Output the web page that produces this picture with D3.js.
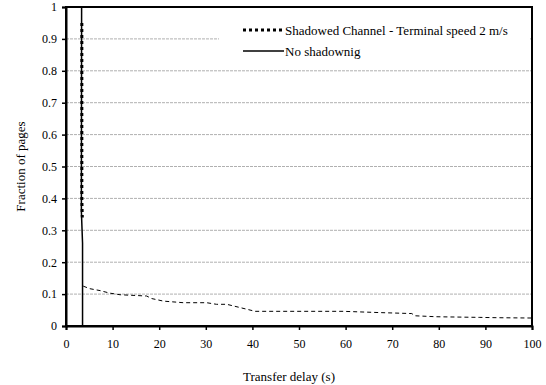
<html lang='eng'>
    <head>
        <script src="https://d3js.org/d3.v7.min.js" charset="utf-8"></script>
        <style>
          body { margin: 0; background: white; }
          text { font-family: "Liberation Serif", "Times New Roman", serif; fill: black; }
        </style>
    </head>
    <body>
        <script>
            // data
            var xTicks = [0, 10, 20, 30, 40, 50, 60, 70, 80, 90, 100]
            var yTicks = [0, 0.1, 0.2, 0.3, 0.4, 0.5, 0.6, 0.7, 0.8, 0.9, 1]
            var yTickLabels = ["0", "0.1", "0.2", "0.3", "0.4", "0.5", "0.6", "0.7", "0.8", "0.9", "1"]

            // shadowed channel, terminal speed 2 m/s : [delay, fraction]
            var shadowedDelay = [3.4, 3.4, 3.5, 3.7, 5.1, 7.3, 9.4, 11.6, 17.3, 18.4, 20.9, 25.2, 30.2, 32.3, 34.5, 37.3, 40.6, 48, 59.5, 67.4, 74.2, 74.9, 79.5, 88.8, 92.4, 100]
            var shadowedFrac  = [0.95, 0.40, 0.34, 0.125, 0.117, 0.111, 0.103, 0.098, 0.094, 0.086, 0.078, 0.073, 0.073, 0.068, 0.068, 0.058, 0.046, 0.046, 0.046, 0.042, 0.039, 0.032, 0.029, 0.027, 0.026, 0.025]

            // no shadowing
            var noShadowDelay = [3.55, 3.55, 3.3, 3.35]
            var noShadowFrac  = [0, 0.26, 0.36, 1]

            var seriesNames = ["Shadowed Channel - Terminal speed 2 m/s", "No shadownig"]

            var width = 546
            var height = 385
            var margin = {left: 66, right: 14, top: 7, bottom: 59}

            var svg = d3.select("body")
                        .append("svg")
                        .attr("width", width)
                        .attr("height", height)

            var x = d3.scaleLinear()
                .domain([0, 100])
                .range([margin.left, width - margin.right])

            var y = d3.scaleLinear()
                .domain([0, 1])
                .range([height - margin.bottom, margin.top])

            // gridlines
            svg.append("g")
               .selectAll("line")
               .data(yTicks.slice(1, -1))
               .enter().append("line")
               .attr("x1", x(0))
               .attr("x2", x(100))
               .attr("y1", function(d) { return y(d) })
               .attr("y2", function(d) { return y(d) })
               .attr("stroke", "#b0b0b0")
               .attr("stroke-width", 1)
               .attr("stroke-dasharray", "3,1")

            // frame
            svg.append("rect")
               .attr("x", x(0))
               .attr("y", y(1))
               .attr("width", x(100) - x(0))
               .attr("height", y(0) - y(1))
               .attr("fill", "none")
               .attr("stroke", "black")
               .attr("stroke-width", 2)

            // legend box (covers gridline)
            var legend = svg.append("g")
            legend.append("rect")
               .attr("x", 219)
               .attr("y", 16)
               .attr("width", 310)
               .attr("height", 46)
               .attr("fill", "white")

            // axes
            var xAxis = d3.axisBottom(x)
                .tickValues(xTicks)
                .tickSize(4)
                .tickFormat(d3.format("d"))
            var gx = svg.append("g")
               .attr("transform", "translate(0," + y(0) + ")")
               .call(xAxis)
            gx.select(".domain").attr("stroke-width", 2)
            gx.selectAll(".tick line").attr("stroke-width", 1.5)
            gx.selectAll("text")
               .attr("font-size", "12px")
               .attr("y", 10)
               .attr("dy", "1em")
               .attr("font-family", "Liberation Serif")

            var yAxis = d3.axisLeft(y)
                .tickValues(yTicks)
                .tickSize(4)
                .tickFormat(function(d, i) { return yTickLabels[i] })
            var gy = svg.append("g")
               .attr("transform", "translate(" + x(0) + ",0)")
               .call(yAxis)
            gy.select(".domain").attr("stroke-width", 2)
            gy.selectAll(".tick line").attr("stroke-width", 1.5)
            gy.selectAll("text")
               .attr("font-size", "12px")
               .attr("x", -9)
               .attr("font-family", "Liberation Serif")

            var line = d3.line()
                .x(function(d) { return x(d[0]) })
                .y(function(d) { return y(d[1]) })

            // no shadowing
            svg.append("path")
               .datum(d3.zip(noShadowDelay, noShadowFrac))
               .attr("d", line)
               .attr("fill", "none")
               .attr("stroke", "black")
               .attr("stroke-width", 1.5)

            // shadowed: thick dotted part then thin dashed tail
            var shadowed = d3.zip(shadowedDelay, shadowedFrac)
            svg.append("path")
               .datum(shadowed.slice(0, 3))
               .attr("d", line)
               .attr("fill", "none")
               .attr("stroke", "black")
               .attr("stroke-width", 3)
               .attr("stroke-dasharray", "3,3")
            svg.append("path")
               .datum(shadowed.slice(3))
               .attr("d", line)
               .attr("fill", "none")
               .attr("stroke", "black")
               .attr("stroke-width", 1)
               .attr("stroke-dasharray", "4,3")

            // legend entries
            legend.append("line")
               .attr("x1", 243).attr("x2", 284)
               .attr("y1", 30).attr("y2", 30)
               .attr("stroke", "black")
               .attr("stroke-width", 3)
               .attr("stroke-dasharray", "3,3")
            legend.append("line")
               .attr("x1", 243).attr("x2", 284)
               .attr("y1", 51).attr("y2", 51)
               .attr("stroke", "black")
               .attr("stroke-width", 1.5)
            legend.selectAll("text")
               .data(seriesNames)
               .enter().append("text")
               .attr("x", 285)
               .attr("y", function(d, i) { return 30 + i * 21 })
               .attr("dy", "0.35em")
               .attr("font-size", "13px")
               .text(function(d) { return d })

            // axis titles
            svg.append("text")
               .attr("x", (x(0) + x(100)) / 2 - 10)
               .attr("y", 381)
               .attr("text-anchor", "middle")
               .attr("font-size", "13px")
               .text("Transfer delay (s)")
            svg.append("text")
               .attr("transform", "translate(25," + (y(0) + y(1)) / 2 + ") rotate(-90)")
               .attr("text-anchor", "middle")
               .attr("font-size", "13px")
               .text("Fraction of pages")
        </script>
    </body>
</html>
